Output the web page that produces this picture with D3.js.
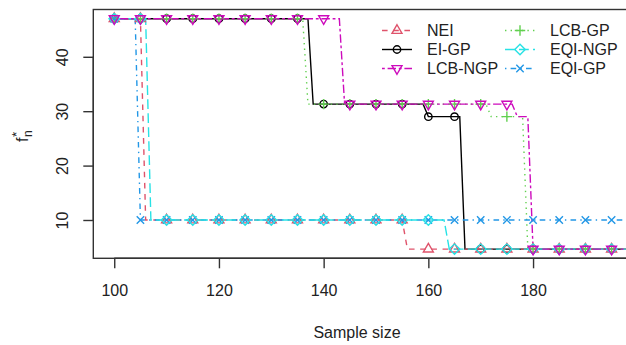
<!DOCTYPE html>
<html><head><meta charset="utf-8">
<script src="https://cdn.jsdelivr.net/npm/d3@7"></script>
<style>
body{margin:0;background:#fff}
svg{display:block}
text{font-family:"Liberation Sans",Arial,Helvetica,sans-serif;fill:#222}
</style>
</head><body><svg id="c" width="626" height="345"></svg>
<script>
// ---------------- data ----------------
const sampleSizes = d3.range(100, 201);           // integer sample sizes
const markerSizes = [100,105,110,115,120,125,130,135,140,145,150,155,160,165,170,175,180,185,190,195,200];
const xTicks = [100,120,140,160,180];
const yTicks = [10,20,30,40];
const seriesNames = ["NEI","EI-GP","LCB-NGP","LCB-GP","EQI-NGP","EQI-GP"];
// best value found per sample size, as runs of [value, number of sample sizes]
const runsNEI    = [[47,6],[10,50],[4.65,45]];
const runsEIGP   = [[47,38],[31.3,22],[29,7],[4.65,34]];
const runsLCBNGP = [[47,44],[31.3,33],[29,3],[4.65,21]];
const runsLCBGP  = [[47,37],[31.3,35],[29,7],[4.65,22]];
const runsEQINGP = [[47,7],[10,57],[4.65,37]];
const runsEQIGP  = [[47,5],[10,96]];

// ---------------- styles ----------------
const LW = 1.4;
const styles = {
  "NEI":     {color:"#DF536B", dash:[5.6,5.6],            pch:"tri"},
  "EI-GP":   {color:"#000000", dash:null,                 pch:"circ"},
  "LCB-NGP": {color:"#CD0BBC", dash:[2.8,2.8,8.4,2.8],    pch:"itri"},
  "LCB-GP":  {color:"#61D04F", dash:[1.4,4.2],            pch:"plus"},
  "EQI-NGP": {color:"#28E2E5", dash:[9.8,4.2],            pch:"diam"},
  "EQI-GP":  {color:"#2297E6", dash:[1.4,4.2,5.6,4.2],    pch:"cross"}
};
const runsByName = {"NEI":runsNEI,"EI-GP":runsEIGP,"LCB-NGP":runsLCBNGP,"LCB-GP":runsLCBGP,"EQI-NGP":runsEQINGP,"EQI-GP":runsEQIGP};
function expand(runs){ const out=[]; runs.forEach(([v,n])=>{for(let i=0;i<n;i++) out.push(v);}); return out; }
const values = {}; seriesNames.forEach(n=>values[n]=expand(runsByName[n]));
const drawOrder = ["EI-GP","NEI","LCB-GP","EQI-GP","EQI-NGP","LCB-NGP"];

// ---------------- layout ----------------
const svg = d3.select("#c");
const L=93.3, R=658.7, T=9.5, B=258.3;
const x = d3.scaleLinear().domain([96,204]).range([L,R]);
const y = d3.scaleLinear().domain([2.96,48.69]).range([B,T]);
const FS = 16;

svg.append("defs").append("clipPath").attr("id","clip")
  .append("rect").attr("x",L).attr("y",T).attr("width",R-L).attr("height",B-T);

const RAD = 3.7;
function symbol(g, type, cx, cy, color){
  const s = g.append("g").attr("fill","none").attr("stroke",color).attr("stroke-width",LW);
  if(type==="circ"){ s.append("circle").attr("cx",cx).attr("cy",cy).attr("r",RAD); }
  else if(type==="tri"||type==="itri"){
    const r=1.5551*RAD, xc=1.3468*RAD, yc=0.7776*RAD, sg = type==="tri"?1:-1;
    s.append("path").attr("d",`M${cx},${cy-sg*r}L${cx+xc},${cy+sg*yc}L${cx-xc},${cy+sg*yc}Z`);
  }
  else if(type==="plus"){ const h=Math.SQRT2*RAD;
    s.append("path").attr("d",`M${cx-h},${cy}H${cx+h}M${cx},${cy-h}V${cy+h}`); }
  else if(type==="cross"){ const h=RAD;
    s.append("path").attr("d",`M${cx-h},${cy-h}L${cx+h},${cy+h}M${cx-h},${cy+h}L${cx+h},${cy-h}`); }
  else if(type==="diam"){ const h=Math.SQRT2*RAD;
    s.append("path").attr("d",`M${cx},${cy-h}L${cx+h},${cy}L${cx},${cy+h}L${cx-h},${cy}Z`); }
}

const plot = svg.append("g").attr("clip-path","url(#clip)");
const line = d3.line().x(d=>x(d[0])).y(d=>y(d[1]));
drawOrder.forEach(name=>{
  const st = styles[name], vals = values[name];
  const pts = sampleSizes.map((s,i)=>[s,vals[i]]);
  plot.append("path").datum(pts).attr("d",line).attr("fill","none")
    .attr("stroke",st.color).attr("stroke-width",LW)
    .attr("stroke-dasharray", st.dash?st.dash.join(","):null);
});
drawOrder.forEach(name=>{
  const st = styles[name], vals = values[name];
  markerSizes.forEach(s=>{ symbol(plot, st.pch, x(s), y(vals[sampleSizes.indexOf(s)]), st.color); });
});

// box
svg.append("rect").attr("x",L).attr("y",T).attr("width",R-L).attr("height",B-T)
  .attr("fill","none").attr("stroke","#333").attr("stroke-width",LW);

// x axis
const xa = svg.append("g").attr("transform",`translate(0,${B})`)
  .call(d3.axisBottom(x).tickValues(xTicks).tickSize(10).tickPadding(16.5).tickFormat(d3.format("d")));
xa.select(".domain").attr("d",`M${x(xTicks[0])},0H${R}`).attr("stroke","#333").attr("stroke-width",LW);
xa.selectAll(".tick line").attr("stroke","#333").attr("stroke-width",LW);
xa.selectAll("text").attr("font-size",FS).attr("fill","#222").style("font-family","'Liberation Sans',Arial,sans-serif");

// y axis
const ya = svg.append("g").attr("transform",`translate(${L},0)`)
  .call(d3.axisLeft(y).tickValues(yTicks).tickSize(10).tickFormat(d3.format("d")));
ya.select(".domain").attr("d",`M0,${y(yTicks[0])}V${y(yTicks[yTicks.length-1])}`).attr("stroke","#333").attr("stroke-width",LW);
ya.selectAll(".tick line").attr("stroke","#333").attr("stroke-width",LW);
ya.selectAll("text").attr("x",null).attr("dy",null)
  .attr("transform","translate(-25,0) rotate(-90)").attr("text-anchor","middle")
  .attr("font-size",FS).attr("fill","#222").style("font-family","'Liberation Sans',Arial,sans-serif");

// axis titles
svg.append("text").attr("x",357).attr("y",338).attr("text-anchor","middle").attr("font-size",FS).text("Sample size");
const yl = svg.append("text").attr("transform",`translate(28,${(T+B)/2}) rotate(-90)`).attr("text-anchor","start").attr("font-size",FS);
yl.append("tspan").attr("x",-8).text("f");
yl.append("tspan").attr("x",-3).attr("font-size",FS*0.75).attr("dy",4).text("n");
yl.append("tspan").attr("x",-3).attr("font-size",FS*0.85).attr("dy",-11).text("*");

// legend
const legCols = [{x1:382,x2:412,xs:397,xt:427},{x1:505,x2:535,xs:520,xt:550}];
const legRows = [30.5,49.5,68.5];
seriesNames.forEach((name,i)=>{
  const c = legCols[Math.floor(i/3)], ry = legRows[i%3], st = styles[name];
  svg.append("line").attr("x1",c.x1).attr("x2",c.x2).attr("y1",ry).attr("y2",ry)
    .attr("stroke",st.color).attr("stroke-width",LW).attr("stroke-dasharray",st.dash?st.dash.join(","):null);
  symbol(svg, st.pch, c.xs, ry, st.color);
  svg.append("text").attr("x",c.xt).attr("y",ry).attr("dy","0.36em").attr("font-size",FS).text(name);
});
</script>
</body></html>
